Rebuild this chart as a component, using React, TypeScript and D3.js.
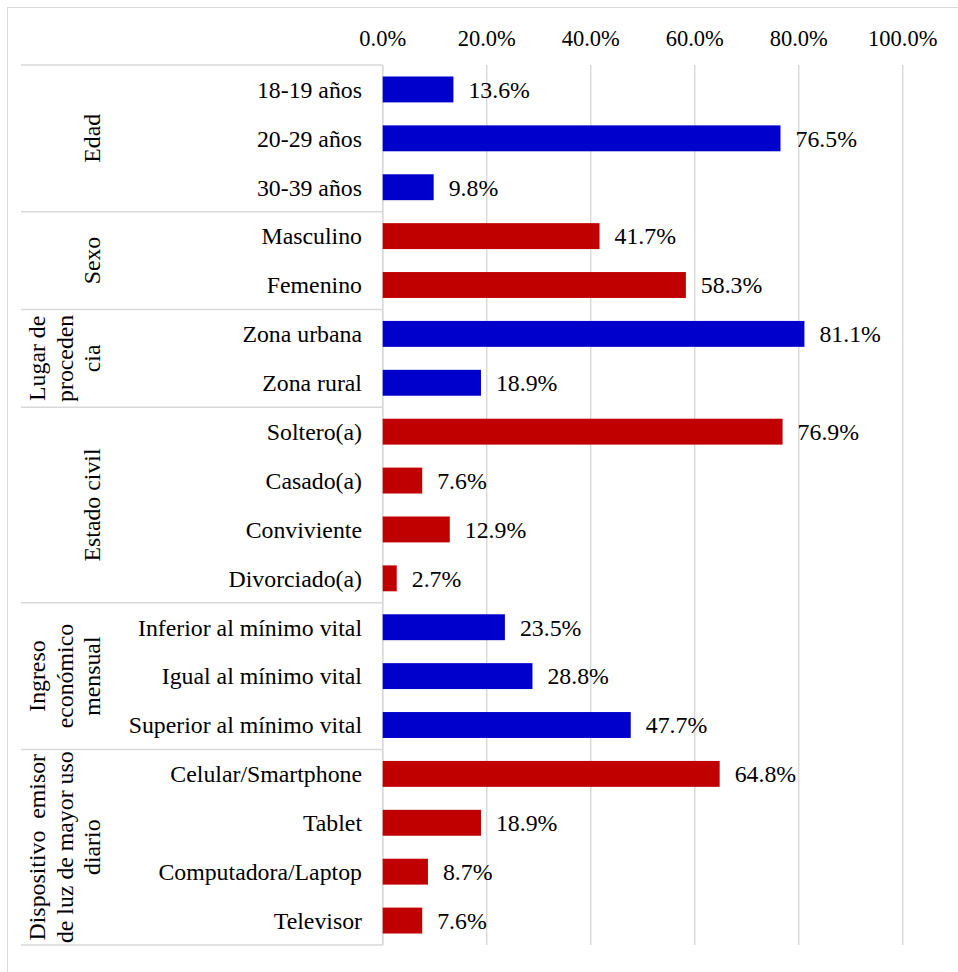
import React from "react";
import * as d3 from "d3";

const groupNames: string[][] = [
  ["Edad"],
  ["Sexo"],
  ["Lugar de", "proceden", "cia"],
  ["Estado civil"],
  ["Ingreso", "económico", "mensual"],
  ["Dispositivo  emisor", "de luz de mayor uso", "diario"],
];
const groupSizes: number[] = [3, 2, 2, 4, 3, 4];
const categories: string[] = [
  "18-19 años", "20-29 años", "30-39 años",
  "Masculino", "Femenino",
  "Zona urbana", "Zona rural",
  "Soltero(a)", "Casado(a)", "Conviviente", "Divorciado(a)",
  "Inferior al mínimo vital", "Igual al mínimo vital", "Superior al mínimo vital",
  "Celular/Smartphone", "Tablet", "Computadora/Laptop", "Televisor",
];
const values: number[] = [
  0.136, 0.765, 0.098,
  0.417, 0.583,
  0.811, 0.189,
  0.769, 0.076, 0.129, 0.027,
  0.235, 0.288, 0.477,
  0.648, 0.189, 0.087, 0.076,
];
const ticks: number[] = [0, 0.2, 0.4, 0.6, 0.8, 1.0];
const groupColors: string[] = ["#0000CC", "#C00000"];

const W = 958, H = 972;
const FONT = "'Liberation Serif', 'Times New Roman', serif";
const GRID = "#D9D9D9";
const FS = 23.8;

export default function App() {
  const x = d3.scaleLinear().domain([0, 1]).range([382.7, 902.7]);
  const y = d3
    .scaleBand<string>()
    .domain(categories)
    .range([65, 945])
    .paddingInner(0.47)
    .paddingOuter(0.235);
  const step = y.step();
  const fmt = d3.format(".1%");

  const groupIndex: number[] = [];
  groupSizes.forEach((s, gi) => {
    for (let i = 0; i < s; i++) groupIndex.push(gi);
  });
  const bounds: number[] = [65];
  let acc = 0;
  groupSizes.forEach((s) => {
    acc += s;
    bounds.push(65 + acc * step);
  });

  return (
    <svg
      width={W}
      height={H}
      style={{ position: "absolute", left: 0, top: 0, background: "#fff" }}
      fontFamily={FONT}
    >
      <rect x={7.5} y={7.5} width={W + 20} height={H + 20} fill="#fff" stroke={GRID} strokeWidth={1} />
      {ticks.map((t) => (
        <line key={"g" + t} x1={x(t)} x2={x(t)} y1={65} y2={945} stroke={GRID} strokeWidth={1.5} />
      ))}
      {ticks.map((t) => (
        <text key={"t" + t} x={x(t)} y={46} textAnchor="middle" fontSize={22.5} fill="#000">
          {fmt(t)}
        </text>
      ))}
      {bounds.map((b, i) => (
        <line key={"b" + i} x1={21} x2={x(0)} y1={b} y2={b} stroke={GRID} strokeWidth={1.5} />
      ))}
      <line x1={x(0)} x2={x(0)} y1={65} y2={945} stroke={GRID} strokeWidth={1.5} />
      {categories.map((c, i) => (
        <rect
          key={"r" + c}
          x={x(0)}
          y={y(c)}
          width={x(values[i]) - x(0)}
          height={y.bandwidth()}
          fill={groupColors[groupIndex[i] % 2]}
        />
      ))}
      {categories.map((c, i) => (
        <text
          key={"v" + c}
          x={x(values[i]) + 15}
          y={(y(c) as number) + y.bandwidth() / 2}
          dy="0.35em"
          fontSize={FS}
          fill="#000"
        >
          {fmt(values[i])}
        </text>
      ))}
      {categories.map((c) => (
        <text
          key={"c" + c}
          x={362}
          y={(y(c) as number) + y.bandwidth() / 2}
          dy="0.35em"
          textAnchor="end"
          fontSize={FS}
          fill="#000"
        >
          {c}
        </text>
      ))}
      {groupNames.map((lines, gi) => {
        const cy = (bounds[gi] + bounds[gi + 1]) / 2;
        const n = lines.length;
        return lines.map((ln, li) => {
          const bx = 100 - (n - 1 - li) * 27.5;
          return (
            <text
              key={"gl" + gi + "-" + li}
              transform={`translate(${bx},${cy}) rotate(-90)`}
              textAnchor="middle"
              fontSize={FS}
              fill="#000"
              style={{ whiteSpace: "pre" }}
            >
              {ln}
            </text>
          );
        });
      })}
    </svg>
  );
}
